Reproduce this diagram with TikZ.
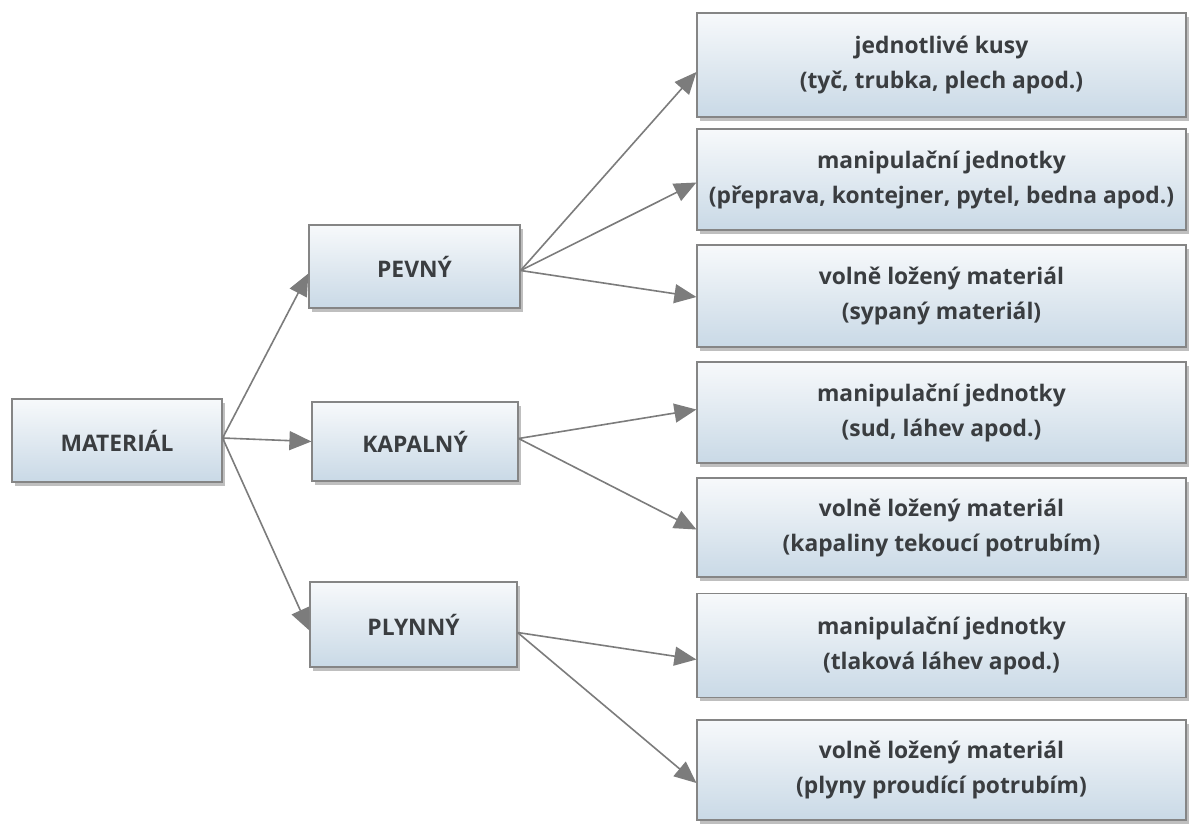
\documentclass[tikz,border=0pt]{standalone}
\usepackage{fontspec}
\setmainfont{Open Sans}
\usetikzlibrary{shadows,arrows.meta}
\definecolor{txt}{HTML}{3A3D40}
\definecolor{bordc}{HTML}{858585}
\definecolor{topc}{HTML}{F7F9FB}
\definecolor{botc}{HTML}{C9D9E6}
\definecolor{linec}{HTML}{7C7C7C}
\tikzset{
  box/.style={draw=bordc, line width=1.2pt, top color=topc, bottom color=botc,
    drop shadow={shadow xshift=3pt, shadow yshift=-3.5pt, opacity=0.5, fill=gray},
    text=txt, font=\bfseries\fontsize{22.8}{35}\selectfont, align=center, inner sep=0pt},
  conn/.style={draw=linec, line width=1.6pt, -{Triangle[length=22pt,width=19pt]}}
}
\begin{document}
\begin{tikzpicture}[x=1pt,y=-1pt]
\useasboundingbox (0,0) rectangle (1195,823);
\fill[white] (0,0) rectangle (1195,823);
% left column
\node[box, minimum width=210pt, minimum height=83pt] (mat) at (117,440.5) {MATERIÁL};
\node[box, minimum width=211pt, minimum height=83pt] (pev) at (414.5,266.5) {PEVNÝ};
\node[box, minimum width=206pt, minimum height=79pt] (kap) at (415,441.5) {KAPALNÝ};
\node[box, minimum width=207pt, minimum height=85pt] (ply) at (413.5,624.5) {PLYNNÝ};
% right column
\node[box, minimum width=489pt, minimum height=104pt] (r1) at (941.5,65) {jednotlivé kusy\\(tyč, trubka, plech apod.)};
\node[box, minimum width=489pt, minimum height=101pt] (r2) at (941.5,179.5) {manipulační jednotky\\(přeprava, kontejner, pytel, bedna apod.)};
\node[box, minimum width=489pt, minimum height=102pt] (r3) at (941.5,296) {volně ložený materiál\\(sypaný materiál)};
\node[box, minimum width=489pt, minimum height=101pt] (r4) at (941.5,412.5) {manipulační jednotky\\(sud, láhev apod.)};
\node[box, minimum width=489pt, minimum height=99pt] (r5) at (941.5,527.5) {volně ložený materiál\\(kapaliny tekoucí potrubím)};
\node[box, minimum width=489pt, minimum height=104pt] (r6) at (941.5,645.5) {manipulační jednotky\\(tlaková láhev apod.)};
\node[box, minimum width=489pt, minimum height=100pt] (r7) at (941.5,770) {volně ložený materiál\\(plyny proudící potrubím)};
% connectors
\coordinate (matO) at ([yshift=2.5pt]mat.east);
\draw[conn] (matO) -- ([yshift=-7pt]pev.west);
\draw[conn] (matO) -- (kap.west);
\draw[conn] (matO) -- ([yshift=-6pt]ply.west);
\coordinate (pevO) at ([yshift=-4pt]pev.east);
\draw[conn] (pevO) -- ([yshift=-7pt]r1.west);
\draw[conn] (pevO) -- ([yshift=-3pt]r2.west);
\draw[conn] (pevO) -- ([yshift=-1pt]r3.west);
\coordinate (kapO) at ([yshift=3pt]kap.east);
\draw[conn] (kapO) -- ([yshift=3pt]r4.west);
\draw[conn] (kapO) -- ([yshift=-2pt]r5.west);
\coordinate (plyO) at ([yshift=-8pt]ply.east);
\draw[conn] (plyO) -- ([yshift=-14pt]r6.west);
\draw[conn] (plyO) -- ([yshift=-13pt]r7.west);
\end{tikzpicture}
\end{document}
